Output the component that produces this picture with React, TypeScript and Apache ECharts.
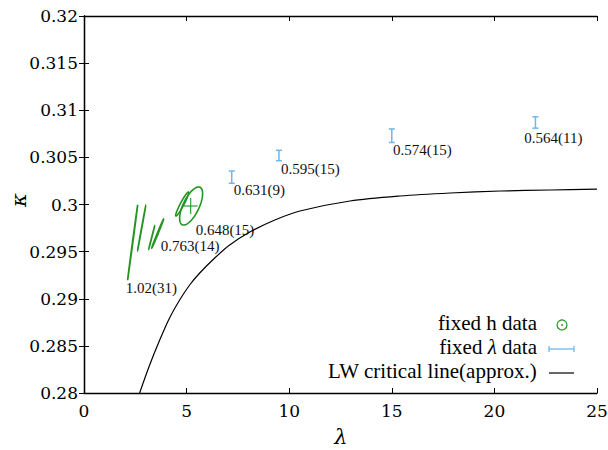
import React, { useEffect, useRef } from "react";
import * as echarts from "echarts";

// fixed lambda data: lambda, kappa, kappa error
const lamX = [7.2, 9.5, 15, 22];
const lamK = [0.3029, 0.3052, 0.3073, 0.3087];
const lamErr = [0.00065, 0.00055, 0.00072, 0.0006];
const lamLabels = ["0.631(9)", "0.595(15)", "0.574(15)", "0.564(11)"];
const lamLabelX = [7.3, 9.6, 15.06, 21.46];
const lamLabelK = [0.3023, 0.30452, 0.30655, 0.3079];

// fixed h data: ellipses (centre lambda, centre kappa, sigma lambda, sigma kappa, correlation)
const hCx = [2.37, 2.81, 3.3, 3.59, 4.785, 5.22];
const hCy = [0.29597, 0.2975, 0.2965, 0.29692, 0.30005, 0.29984];
const hSx = [0.245, 0.195, 0.145, 0.29, 0.317, 0.56];
const hSy = [0.00398, 0.00233, 0.00122, 0.00154, 0.00127, 0.00202];
const hRho = [0.999, 0.999, 0.999, 0.996, 0.95, 0.65];
// central cross of the last point
const crossX = [5.2];
const crossK = [0.29984];
const crossErrX = [0.34];
const crossErrK = [0.00085];
const hLabels = ["1.02(31)", "0.763(14)", "0.648(15)"];
const hLabelX = [2.03, 3.74, 5.44];
const hLabelK = [0.2919, 0.29634, 0.29814];

// LW critical line (approx.)
const critLam = [2.71, 3.2, 3.69, 4.17, 4.66, 5.15, 5.64, 6.37, 7.1, 8.08, 9.3, 10.52, 12.96, 15.4, 17.85, 20.29, 22.73, 25];
const critK = [0.28, 0.28297, 0.28562, 0.28796, 0.28987, 0.29146, 0.29273, 0.29432, 0.2957, 0.29708, 0.29836, 0.29931, 0.30037, 0.3009, 0.30122, 0.30143, 0.30154, 0.30164];

// axes and tick labels
const xTicks = { min: 0, max: 25, interval: 5 };
const yTicks = { min: 0.28, max: 0.32, interval: 0.005 };
const xTickVals = [0, 5, 10, 15, 20, 25];
const xTickLabels = ["0", "5", "10", "15", "20", "25"];
const yTickVals = [0.28, 0.285, 0.29, 0.295, 0.3, 0.305, 0.31, 0.315, 0.32];
const yTickLabels = ["0.28", "0.285", "0.29", "0.295", "0.3", "0.305", "0.31", "0.315", "0.32"];

const GREEN = "#239323";
const BLUE = "#6cb8ea";
const FONT = "'Liberation Serif', serif";
const TICKFONT = "'DejaVu Serif', 'Liberation Serif', serif";

export default function App() {
  const ref = useRef<HTMLDivElement>(null);
  useEffect(() => {
    if (!ref.current) return;
    const chart = echarts.init(ref.current, undefined, { renderer: "svg" });
    const axisLine = { show: true, lineStyle: { color: "#000", width: 1.3 } };
    const tick = { show: true, inside: true, length: 5, lineStyle: { color: "#000", width: 1 } };
    const tickLabelData = [
      ...xTickVals.map((v, i) => [v, yTicks.min, 0, i]),
      ...yTickVals.map((v, i) => [xTicks.min, v, 1, i]),
    ];
    const option: any = {
      animation: false,
      backgroundColor: "#fff",
      grid: { left: 84, right: 11, top: 16, bottom: 57, containLabel: false, outerBoundsMode: "none" },
      xAxis: [
        { type: "value", position: "bottom", ...xTicks, axisLine, axisTick: tick, splitLine: { show: false }, axisLabel: { show: false } },
        { type: "value", position: "top", ...xTicks, axisLine, axisTick: tick, splitLine: { show: false }, axisLabel: { show: false } },
      ],
      yAxis: [
        { type: "value", position: "left", ...yTicks, axisLine, axisTick: tick, splitLine: { show: false }, axisLabel: { show: false } },
        { type: "value", position: "right", ...yTicks, axisLine, axisTick: tick, splitLine: { show: false }, axisLabel: { show: false } },
      ],
      series: [
        {
          type: "line",
          data: critLam.map((l, i) => [l, critK[i]]),
          showSymbol: false, smooth: 0.3,
          lineStyle: { color: "#000", width: 1.2 },
          silent: true,
        },
        {
          type: "custom",
          data: hCx.map((c, i) => [c, hCy[i], hSx[i], hSy[i], hRho[i]]),
          encode: { x: 0, y: 1 },
          renderItem: (params: any, api: any) => {
            const cx = api.value(0), cy = api.value(1), sx = api.value(2), sy = api.value(3), rho = api.value(4);
            const s = Math.sqrt(1 - rho * rho);
            const pts: number[][] = [];
            for (let k = 0; k < 120; k++) {
              const t = (k / 120) * Math.PI * 2;
              pts.push(api.coord([cx + sx * Math.cos(t), cy + sy * (rho * Math.cos(t) + s * Math.sin(t))]));
            }
            return { type: "polygon", shape: { points: pts }, style: { fill: "none", stroke: GREEN, lineWidth: 1.6 } };
          },
        },
        {
          type: "custom",
          data: crossX.map((c, i) => [c, crossK[i], crossErrX[i], crossErrK[i]]),
          encode: { x: 0, y: 1 },
          renderItem: (params: any, api: any) => {
            const x = api.value(0), y = api.value(1), ex = api.value(2), ey = api.value(3);
            const a = api.coord([x - ex, y]), b = api.coord([x + ex, y]);
            const c = api.coord([x, y - ey]), d = api.coord([x, y + ey]);
            const st = { stroke: GREEN, lineWidth: 1.1 };
            return {
              type: "group",
              children: [
                { type: "line", shape: { x1: a[0], y1: a[1], x2: b[0], y2: b[1] }, style: st },
                { type: "line", shape: { x1: c[0], y1: c[1], x2: d[0], y2: d[1] }, style: st },
              ],
            };
          },
        },
        {
          type: "custom",
          data: lamX.map((x, i) => [x, lamK[i], lamErr[i]]),
          encode: { x: 0, y: 1 },
          renderItem: (params: any, api: any) => {
            const x = api.value(0), y = api.value(1), e = api.value(2);
            const top = api.coord([x, y + e]), bot = api.coord([x, y - e]);
            const st = { stroke: BLUE, lineWidth: 1.5 };
            const cap = 3;
            return {
              type: "group",
              children: [
                { type: "line", shape: { x1: top[0], y1: top[1], x2: bot[0], y2: bot[1] }, style: st },
                { type: "line", shape: { x1: top[0] - cap, y1: top[1], x2: top[0] + cap, y2: top[1] }, style: st },
                { type: "line", shape: { x1: bot[0] - cap, y1: bot[1], x2: bot[0] + cap, y2: bot[1] }, style: st },
              ],
            };
          },
        },
        {
          type: "custom",
          data: [
            ...lamLabelX.map((x, i) => [x, lamLabelK[i]]),
            ...hLabelX.map((x, i) => [x, hLabelK[i]]),
          ],
          encode: { x: 0, y: 1 },
          renderItem: (params: any, api: any) => {
            const p = api.coord([api.value(0), api.value(1)]);
            const txt = params.dataIndex < lamLabels.length ? lamLabels[params.dataIndex] : hLabels[params.dataIndex - lamLabels.length];
            return {
              type: "text", x: p[0], y: p[1],
              style: { text: txt, fill: "#111", font: `15px ${FONT}`, align: "left", verticalAlign: "top" },
            };
          },
        },
        {
          // axis tick labels, positioned through the axes' scales
          type: "custom",
          clip: false,
          silent: true,
          data: tickLabelData,
          encode: { x: 0, y: 1 },
          renderItem: (params: any, api: any) => {
            const kind = api.value(2), idx = api.value(3);
            const p = api.coord([api.value(0), api.value(1)]);
            if (kind === 0) {
              return {
                type: "text", x: p[0], y: p[1] + 9,
                style: { text: xTickLabels[idx], fill: "#000", font: `17px ${TICKFONT}`, align: "center", verticalAlign: "top" },
              };
            }
            return {
              type: "text", x: p[0] - 6, y: p[1],
              style: { text: yTickLabels[idx], fill: "#000", font: `17px ${TICKFONT}`, align: "right", verticalAlign: "middle" },
            };
          },
        },
      ],
      graphic: [
        {
          type: "text", x: 341, y: 437,
          style: { text: "λ", fill: "#000", font: `italic 21px ${TICKFONT}`, align: "center", verticalAlign: "middle" },
        },
        {
          type: "text", x: 19, y: 200, rotation: Math.PI / 2,
          style: { text: "κ", fill: "#000", font: `italic 21px ${TICKFONT}`, align: "center", verticalAlign: "middle" },
        },
        {
          type: "text", right: 71, top: 312,
          style: { text: "fixed h data", fill: "#000", font: `21px ${FONT}` },
        },
        { type: "circle", shape: { cx: 562, cy: 325, r: 5 }, style: { fill: "none", stroke: GREEN, lineWidth: 1.2 } },
        { type: "circle", shape: { cx: 562, cy: 325, r: 0.9 }, style: { fill: GREEN } },
        {
          type: "text", right: 71, top: 336,
          style: {
            text: "{n|fixed }{i|λ}{n| data}", fill: "#000", font: `21px ${FONT}`,
            rich: {
              n: { font: `21px ${FONT}`, fill: "#000" },
              i: { font: `italic 21px ${FONT}`, fill: "#000" },
            },
          },
        },
        { type: "line", shape: { x1: 549, y1: 349, x2: 574, y2: 349 }, style: { stroke: BLUE, lineWidth: 1.3 } },
        { type: "line", shape: { x1: 549, y1: 346, x2: 549, y2: 352 }, style: { stroke: BLUE, lineWidth: 1.3 } },
        { type: "line", shape: { x1: 574, y1: 346, x2: 574, y2: 352 }, style: { stroke: BLUE, lineWidth: 1.3 } },
        {
          type: "text", right: 71, top: 360,
          style: { text: "LW critical line(approx.)", fill: "#000", font: `21px ${FONT}` },
        },
        { type: "line", shape: { x1: 549, y1: 373, x2: 574, y2: 373 }, style: { stroke: "#000", lineWidth: 1.2 } },
      ],
    };
    chart.setOption(option);
    return () => chart.dispose();
  }, []);
  return (
    <div
      ref={ref}
      style={{ position: "fixed", left: 0, top: 0, width: 608, height: 450, background: "#fff" }}
    />
  );
}
